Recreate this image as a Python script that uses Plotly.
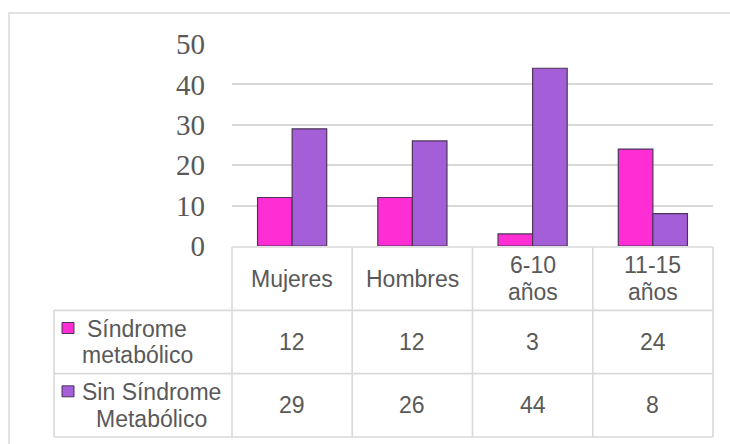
import plotly.graph_objects as go

# ---------------- data ----------------
categories = ["Mujeres", "Hombres", "6-10\naños", "11-15\naños"]
series_names = ["Síndrome\nmetabólico", "Sin Síndrome\nMetabólico"]
sindrome = [12, 12, 3, 24]
sin_sindrome = [29, 26, 44, 8]
y_tick_values = [0, 10, 20, 30, 40, 50]

# ---------------- style / layout ----------------
W, H = 730, 444
colors = ["#FF2DD4", "#A35ED8"]
edge = "#4e3558"
grid_col = "#d9d9d9"
text_col = "#595959"
sans = "Liberation Sans, Arial, sans-serif"
serif = "Liberation Serif, Times New Roman, serif"

def px(x):
    return x / W

def py(y):
    return 1 - y / H

plot_l, plot_r = 232, 713
axis_top, axis_bottom = 44, 246
table_top, table_bottom = 247, 437
label_left = 54
line_h = 26.5
fs = 23

series = [sindrome, sin_sindrome]
fig = go.Figure()
for name, vals, c in zip(series_names, series, colors):
    fig.add_trace(go.Bar(
        x=categories, y=vals, name=name.replace("\n", " "),
        marker=dict(color=c, line=dict(color=edge, width=1.2)),
        xaxis="x", yaxis="y", showlegend=False,
    ))

ncat = len(categories)
nrows = 1 + len(series)
row_px = (table_bottom - table_top) / nrows

shapes = []
line_style = dict(color=grid_col, width=1.6)
# vertical lines of category columns
for k in range(ncat + 1):
    shapes.append(dict(type="line", xref="x domain", yref="y2 domain",
                       x0=k / ncat, x1=k / ncat, y0=0, y1=1, line=line_style))
# left (legend) column line
lx = (label_left - plot_l) / (plot_r - plot_l)
shapes.append(dict(type="line", xref="x domain", yref="y2 domain",
                   x0=lx, x1=lx, y0=0, y1=(nrows - 1) / nrows, line=line_style))
# horizontal lines
for r in range(nrows + 1):
    yy = 1 - r / nrows
    x0 = 0 if r == 0 else lx
    shapes.append(dict(type="line", xref="x domain", yref="y2 domain",
                       x0=x0, x1=1, y0=yy, y1=yy, line=line_style))
# outer chart border
shapes.append(dict(type="rect", xref="paper", yref="paper",
                   x0=px(9), x1=px(W + 5), y0=py(13), y1=py(H + 5),
                   line=dict(color=grid_col, width=1.5), fillcolor="rgba(0,0,0,0)",
                   layer="below"))

annotations = []

def add_multiline(text, x, y, xref, yref, size=fs):
    lines = text.split("\n")
    n = len(lines)
    for j, ln in enumerate(lines):
        annotations.append(dict(
            text=ln, x=x, y=y, xref=xref, yref=yref, showarrow=False,
            yshift=((n - 1) / 2 - j) * line_h,
            font=dict(family=sans, size=size, color=text_col),
            xanchor="center", yanchor="middle",
        ))

# header row (categories)
for cat in categories:
    add_multiline(cat, cat, 0.5, "x", "y2")
# value rows
for r, vals in enumerate(series):
    for cat, v in zip(categories, vals):
        add_multiline(str(v), cat, r + 1.5, "x", "y2")

# legend keys + names in the left column
legend_text_x = [137, 151]
for r, (name, c) in enumerate(zip(series_names, colors)):
    yc = table_top + row_px * (r + 1.5)
    add_multiline(name, px(legend_text_x[r]), py(yc), "paper", "paper")
    ky = yc - 14
    shapes.append(dict(type="rect", xref="paper", yref="paper",
                       x0=px(62), x1=px(74), y0=py(ky - 5.5), y1=py(ky + 5.5),
                       fillcolor=c, line=dict(color=edge, width=1)))

fig.update_layout(
    width=W, height=H, autosize=False,
    margin=dict(l=0, r=0, t=0, b=0, pad=0, autoexpand=False),
    paper_bgcolor="white", plot_bgcolor="white",
    bargap=0.425, bargroupgap=0, barmode="group",
    xaxis=dict(domain=[px(plot_l), px(plot_r)], visible=False,
               range=[-0.5, ncat - 0.5], anchor="y", automargin=False),
    yaxis=dict(domain=[py(axis_bottom), py(axis_top)], range=[0, 50],
               tickvals=y_tick_values, showgrid=True, gridcolor=grid_col, gridwidth=1.6,
               zeroline=False, showline=False, ticks="", automargin=False,
               tickfont=dict(family=serif, size=29, color=text_col),
               ticklabelstandoff=26, anchor="x"),
    yaxis2=dict(domain=[py(table_bottom), py(table_top)], range=[nrows, 0],
                visible=False, anchor="x", automargin=False),
    shapes=shapes, annotations=annotations,
)

fig.write_html("out.html")
